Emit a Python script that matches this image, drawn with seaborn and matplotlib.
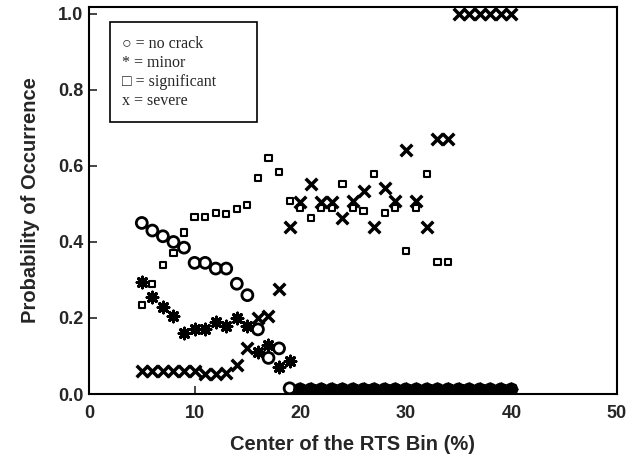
import numpy as np
import pandas as pd
import matplotlib
matplotlib.use('Agg')
import matplotlib.pyplot as plt
import seaborn as sns
from matplotlib.patches import Rectangle

# RTS bin centres (%)
bins = list(range(5, 41))

# probability per damage class
no_crack = [0.45, 0.43, 0.415, 0.40, 0.385, 0.345, 0.345, 0.33, 0.33, 0.29,
            0.26, 0.17, 0.095, 0.12, 0.015] + [0.012] * 21
minor_bins = list(range(5, 41))
minor = [0.295, 0.255, 0.23, 0.205, 0.16, 0.17, 0.17, 0.19, 0.18, 0.20,
         0.18, 0.11, 0.13, 0.07, 0.087] + [0.012] * 21
sig_bins = list(range(5, 35))
significant = [0.235, 0.29, 0.34, 0.37, 0.425, 0.466, 0.466, 0.476, 0.474, 0.487,
               0.497, 0.568, 0.62, 0.584, 0.508, 0.49, 0.463, 0.49, 0.49, 0.553,
               0.49, 0.482, 0.579, 0.476, 0.49, 0.376, 0.49, 0.579, 0.347, 0.347]
severe = [0.06, 0.06, 0.06, 0.06, 0.06, 0.06, 0.052, 0.052, 0.055, 0.075,
          0.12, 0.20, 0.205, 0.275, 0.44, 0.505, 0.553, 0.505, 0.505, 0.463,
          0.508, 0.534, 0.44, 0.542, 0.508, 0.642, 0.508, 0.44, 0.671, 0.671,
          1.0, 1.0, 1.0, 1.0, 1.0, 1.0]

legend_lines = ['\u25cb = no crack', '* = minor', '\u25a1 = significant', 'x = severe']

sns.set_theme(style='ticks')
plt.rcParams['font.family'] = ['Liberation Sans', 'DejaVu Sans']

fig = plt.figure(figsize=(6.32, 4.59), dpi=100)
ax = fig.add_axes([0.1408, 0.1416, 0.8354, 0.8431])

sns.scatterplot(x=bins, y=no_crack, marker='o', s=62, facecolor='none',
                edgecolor='black', linewidth=2.0, ax=ax, zorder=3)
sns.scatterplot(x=minor_bins, y=minor, marker=(8, 2, 0), s=60, color='black',
                linewidth=2.2, ax=ax, zorder=3)
sns.scatterplot(x=sig_bins, y=significant, marker='s', s=20, facecolor='none',
                edgecolor='black', linewidth=1.5, ax=ax, zorder=3)
sns.scatterplot(x=bins, y=severe, marker='x', s=70, color='black',
                linewidth=2.5, ax=ax, zorder=3, clip_on=False)

ax.set_xlim(0, 50)
ax.set_ylim(0, 1.018)
ax.set_xticks([0, 10, 20, 30, 40, 50])
ax.set_yticks([0.0, 0.2, 0.4, 0.6, 0.8, 1.0])
ax.set_yticklabels(['0.0', '0.2', '0.4', '0.6', '0.8', '1.0'])
ax.tick_params(direction='in', length=6, width=1.2, labelsize=13)
ax.tick_params(axis='x', pad=8)
ax.tick_params(axis='y', pad=4)
for lab in ax.get_xticklabels() + ax.get_yticklabels():
    lab.set_fontweight('bold')
for sp in ax.spines.values():
    sp.set_linewidth(1.5)
    sp.set_color('black')

ax.set_xlabel('Center of the RTS Bin (%)', fontsize=14.5, fontweight='bold', labelpad=9)
ax.set_ylabel('Probability of Occurrence', fontsize=14.5, fontweight='bold', labelpad=13)

# hand-drawn style legend box
ax.add_patch(Rectangle((0.04, 0.703), 0.278, 0.258, transform=ax.transAxes,
                       facecolor='white', edgecolor='black', linewidth=1.2, zorder=4))
for i, txt in enumerate(legend_lines):
    ax.text(0.062, 0.905 - i * 0.049, txt, transform=ax.transAxes, fontsize=11.5,
            family=['Liberation Serif', 'DejaVu Serif'], va='center', zorder=5)

fig.savefig('out.png', dpi=100)
